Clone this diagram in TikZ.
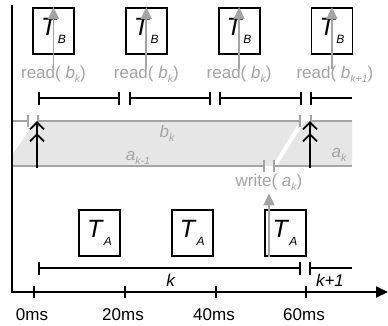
\documentclass[tikz,border=0pt]{standalone}
\usepackage{fontspec}
\setmainfont{Liberation Sans}
\usetikzlibrary{positioning, arrows.meta}

\definecolor{lgray}{HTML}{A4A4A4}
\definecolor{bandgray}{HTML}{E6E6E6}
% italic variable with a lowered index
\newcommand{\vr}[2]{\textit{#1}\raisebox{-4pt}{\fontsize{10.5}{10.5}\selectfont\itshape #2}}
\newcommand{\task}[1]{\textit{T}\raisebox{-8pt}{\fontsize{12}{12}\selectfont\itshape #1}}

\begin{document}
\begin{tikzpicture}[
  x=1pt, y=-1pt,
  font=\fontsize{17}{19}\selectfont,
  tbox/.style={draw, line width=1.8pt, minimum width=41pt, minimum height=46pt,
               inner sep=0pt, font=\fontsize{25}{27}\selectfont},
  lbl/.style={text=lgray, inner sep=0pt},
  rd/.style={-{Triangle[length=12pt, width=11pt]}, draw=lgray, line width=1.8pt},
  ivl/.style={{Bar[width=13pt]}-{Bar[width=13pt]}, line width=1.6pt},
  ivlo/.style={{Bar[width=13pt]}-, line width=1.6pt},
  buf/.style={draw=lgray, line width=1.8pt},
  upd/.style={-{Straight Barb[length=7pt, width=14pt, sep=3pt] Straight Barb[length=7pt, width=14pt]},
              line width=1.8pt},
  axis/.style={line width=1.8pt},
]
\useasboundingbox (0,0) rectangle (388,325);

% shared buffer
\fill[bandgray] (12,166) -- (12,155) -- (36,121) -- (300,121) -- (272,166) -- cycle;
\fill[bandgray] (277,166) -- (305,121) -- (352,121) -- (352,166) -- cycle;
\draw[buf, -{Bar[width=12pt]}] (12,121) -- (29,121);
\draw[buf, {Bar[width=12pt]}-{Bar[width=12pt]}] (37,121) -- (301,121);
\draw[buf, {Bar[width=12pt]}-] (310,121) -- (352,121);
\draw[buf, -{Bar[width=12pt]}] (12,166) -- (265,166);
\draw[buf, {Bar[width=12pt]}-] (273,166) -- (352,166);
\node[lbl] (bk) at (167,133) {\vr{b}{k}};
\node[lbl] (akm) at (138,158) {\vr{a}{k-1}};
\node[lbl] (ak) at (339,155) {\vr{a}{k}};
\draw[upd] (37,168) -- (37,121);
\draw[upd] (310,168) -- (310,121);

% task B
\node[tbox] (tb1) at (53.5,31) {\task{B}};
\node[tbox, right=50pt of tb1] (tb2) {\task{B}};
\node[tbox, right=50pt of tb2] (tb3) {\task{B}};
\node[tbox, right=50pt of tb3] (tb4) {\task{B}};
\node[lbl, below=11pt of tb1] (r1) {read( \vr{b}{k})};
\node[lbl, below=11pt of tb2] (r2) {read( \vr{b}{k})};
\node[lbl, below=11pt of tb3] (r3) {read( \vr{b}{k})};
\node[lbl, below=11pt of tb4, xshift=3pt] (r4) {read( \vr{b}{k+1})};
\foreach \i in {1,...,4}
  \draw[rd] ([yshift=-3pt]tb\i.north |- r\i.north) -- (tb\i.north);

\draw[ivl] (38,98) -- (120,98);
\draw[ivl] (129,98) -- (211,98);
\draw[ivl] (219,98) -- (302,98);
\draw[ivlo] (310,98) -- (352,98);

% task A
\node[tbox] (ta1) at (99.5,233) {\task{A}};
\node[tbox, right=50pt of ta1] (ta2) {\task{A}};
\node[tbox, right=50pt of ta2] (ta3) {\task{A}};
\node[lbl] (w) at (269,182) {write( \vr{a}{k})};
\draw[rd] (w.south |- ta3.south) -- ([yshift=-3pt]w.south);

% periods
\draw[ivl] (38,268) -- (301,268);
\draw[ivlo] (309,268) -- (352,268);
\node[inner sep=0pt] (pk) at (171,280) {\textit{k}};
\node[inner sep=0pt] (pk1) at (330,280) {\textit{k+1}};

% time axis
\coordinate (top) at (12,5);
\coordinate (orig) at (12,292);
\coordinate (tend) at (388,292);
\draw[axis, -{Triangle[length=12pt, width=11pt]}] (top) -- (orig) -- (tend);
\foreach \x/\t in {34/0, 125/20, 216/40, 306/60} {
  \draw[axis] (\x,286) -- (\x,298);
  \node[inner sep=0pt] (ms\t) at (\x-2,314.5) {\t ms};
}
\end{tikzpicture}
\end{document}
